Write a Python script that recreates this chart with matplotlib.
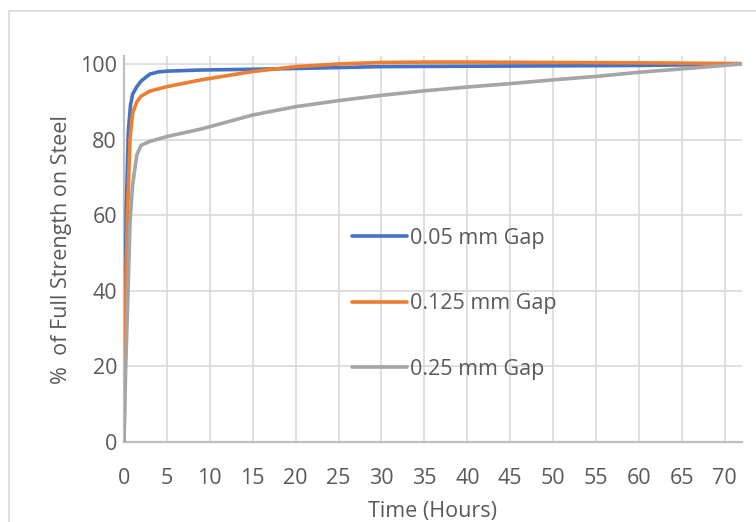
import matplotlib
matplotlib.use("Agg")
import matplotlib.pyplot as plt
from matplotlib.patches import Rectangle

# curing curves (hours vs % of full strength)
T_005 = [0, 0.1, 0.25, 0.5, 0.75, 1, 1.5, 2, 3, 4, 5, 9, 15, 20, 30, 40, 50, 60, 72]
Y_005 = [0, 30, 60, 82, 89, 92, 94, 95.5, 97.3, 97.9, 98.1, 98.4, 98.6, 98.8, 99.3, 99.4, 99.5, 99.6, 100]

T_0125 = [0, 0.1, 0.25, 0.4, 0.7, 1, 1.5, 2, 3, 5, 9, 15, 20, 25, 30, 35, 40, 50, 60, 72]
Y_0125 = [0, 20, 45, 60, 80, 87, 90, 91.5, 92.8, 94, 95.8, 98.0, 99.3, 100, 100.4, 100.5, 100.5, 100.4, 100.3, 100.1]

T_025 = [0, 0.2, 0.5, 0.7, 1, 1.5, 2, 3, 5, 9, 15, 20, 25, 30, 35, 40, 45, 50, 55, 60, 65, 72]
Y_025 = [0, 20, 42, 58, 68, 76, 78.5, 79.5, 80.8, 82.8, 86.5, 88.7, 90.3, 91.7, 92.9, 93.9, 94.8, 95.8, 96.7, 97.8, 98.7, 100]

LABELS = ["0.05 mm Gap", "0.125 mm Gap", "0.25 mm Gap"]
COLORS = ["#4472C4", "#ED7D31", "#A5A5A5"]
XTICKS = list(range(0, 71, 5))
YTICKS = list(range(0, 101, 20))

TXT = "#595959"
GRID = "#d9d9d9"
FS = 15.5
plt.rcParams["font.family"] = ["Open Sans", "DejaVu Sans"]

W, H = 756, 522
fig = plt.figure(figsize=(W / 100, H / 100), dpi=100)
fig.patches.append(Rectangle((9 / W, -0.1), 1.2, 1 - 11 / H + 0.1, transform=fig.transFigure,
                             fill=False, edgecolor=GRID, lw=1.2))
ax = fig.add_axes([124 / W, 1 - 442 / H, (742 - 124) / W, (442 - 56.4) / H])

for t, y, c, lab in zip([T_005, T_0125, T_025], [Y_005, Y_0125, Y_025], COLORS, LABELS):
    ax.plot(t, y, color=c, lw=2.6, label=lab, solid_capstyle="round", zorder=3)

ax.set_xlim(0, 72)
ax.set_ylim(0, 102)
ax.set_xticks(XTICKS)
ax.set_yticks(YTICKS)
ax.grid(True, color=GRID, lw=1.2)
ax.set_axisbelow(True)
for s in ["top", "right"]:
    ax.spines[s].set_visible(False)
for s in ["left", "bottom"]:
    ax.spines[s].set_color("#bfbfbf")
    ax.spines[s].set_linewidth(1.6)
ax.tick_params(length=0, colors=TXT, labelsize=FS)
ax.tick_params(axis="x", pad=19)
ax.tick_params(axis="y", pad=5)

ax.set_xlabel("Time (Hours)", color=TXT, fontsize=FS, labelpad=8)
ax.set_ylabel("%  of Full Strength on Steel", color=TXT, fontsize=FS, labelpad=6)

lg = ax.legend(loc="upper left", bbox_to_anchor=(352 / W, 1 - 228 / H), bbox_transform=fig.transFigure,
               frameon=False, fontsize=FS, borderpad=0, borderaxespad=0, labelspacing=2.06,
               handlelength=2.56, handletextpad=0.15)
for t in lg.get_texts():
    t.set_color(TXT)

fig.savefig("out.png", dpi=100)
